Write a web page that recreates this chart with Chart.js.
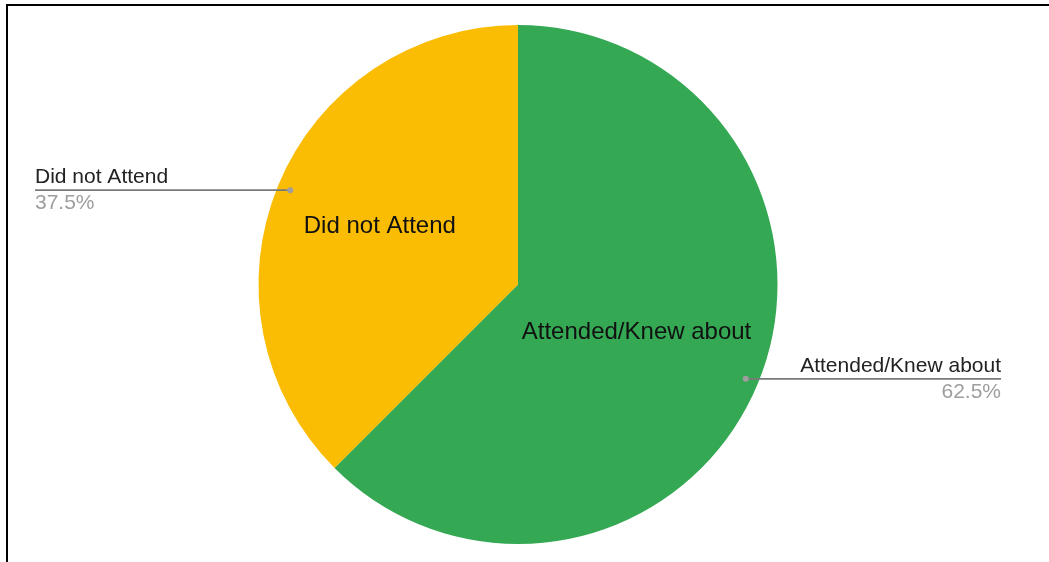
<!DOCTYPE html>
<html>
<head>
<meta charset="utf-8">
<script src="https://cdn.jsdelivr.net/npm/chart.js@4/dist/chart.umd.min.js"></script>
<style>
  html, body { margin: 0; padding: 0; background: #fff; overflow: hidden; }
  #wrap { position: relative; width: 1049px; height: 562px; }
  #frame { position: absolute; left: 6px; top: 4px; right: 0; bottom: 0;
           border-top: 2.5px solid #000; border-left: 2.5px solid #000; }
  #box { position: absolute; left: 0; top: 0; width: 1049px; height: 562px; }
</style>
</head>
<body>
<div id="wrap">
  <div id="frame"></div>
  <div id="box"><canvas id="c"></canvas></div>
</div>
<script>
const categories = ["Attended/Knew about", "Did not Attend"];
const values = [62.5, 37.5];
const sliceColors = ["#34A853", "#FBBC04"];

const FONT = '"Liberation Sans", Arial, sans-serif';

const labelPlugin = {
  id: 'pieLabels',
  afterDatasetsDraw(chart) {
    const ctx = chart.ctx;
    const meta = chart.getDatasetMeta(0);
    const data = chart.data.datasets[0].data;
    const total = data.reduce((a, b) => a + b, 0);
    const area = chart.chartArea;
    const innerFrac = [0.493, 0.578];
    const innerShift = [-0.4, 0.4];
    meta.data.forEach((arc, i) => {
      const p = arc.getProps(['x', 'y', 'startAngle', 'endAngle', 'outerRadius'], true);
      const mid = (p.startAngle + p.endAngle) / 2;
      const r = p.outerRadius;
      // inside label
      const ir = r * innerFrac[i];
      const ia = mid + innerShift[i] * Math.PI / 180;
      ctx.save();
      ctx.font = '24px ' + FONT;
      ctx.fillStyle = '#111';
      ctx.textAlign = 'center';
      ctx.textBaseline = 'middle';
      ctx.fillText(chart.data.labels[i], p.x + Math.cos(ia) * ir, p.y + Math.sin(ia) * ir);
      // outside callout
      const dx = p.x + Math.cos(mid) * r * 0.95;
      const dy = p.y + Math.sin(mid) * r * 0.95;
      const right = Math.cos(mid) > 0;
      const endX = right ? area.right - 35 : area.left + 35;
      ctx.strokeStyle = '#7a7a7a';
      ctx.lineWidth = 1.6;
      ctx.beginPath();
      ctx.moveTo(dx, dy);
      ctx.lineTo(endX, dy);
      ctx.stroke();
      ctx.fillStyle = '#9e9e9e';
      ctx.beginPath();
      ctx.arc(dx, dy, 3, 0, Math.PI * 2);
      ctx.fill();
      ctx.font = '21px ' + FONT;
      ctx.textAlign = right ? 'right' : 'left';
      ctx.textBaseline = 'alphabetic';
      ctx.fillStyle = '#222';
      ctx.fillText(chart.data.labels[i], endX, dy - 7);
      ctx.fillStyle = '#9e9e9e';
      const pct = (data[i] / total * 100).toFixed(1) + '%';
      ctx.fillText(pct, endX, dy + 19);
      ctx.restore();
    });
  }
};

new Chart(document.getElementById('c'), {
  type: 'pie',
  data: {
    labels: categories,
    datasets: [{
      data: values,
      backgroundColor: sliceColors,
      borderWidth: 0
    }]
  },
  options: {
    responsive: true,
    maintainAspectRatio: false,
    animation: false,
    layout: { padding: { top: 25, bottom: 18, left: 0, right: 13 } },
    plugins: {
      legend: { display: false },
      tooltip: { enabled: false }
    }
  },
  plugins: [labelPlugin]
});
</script>
</body>
</html>
